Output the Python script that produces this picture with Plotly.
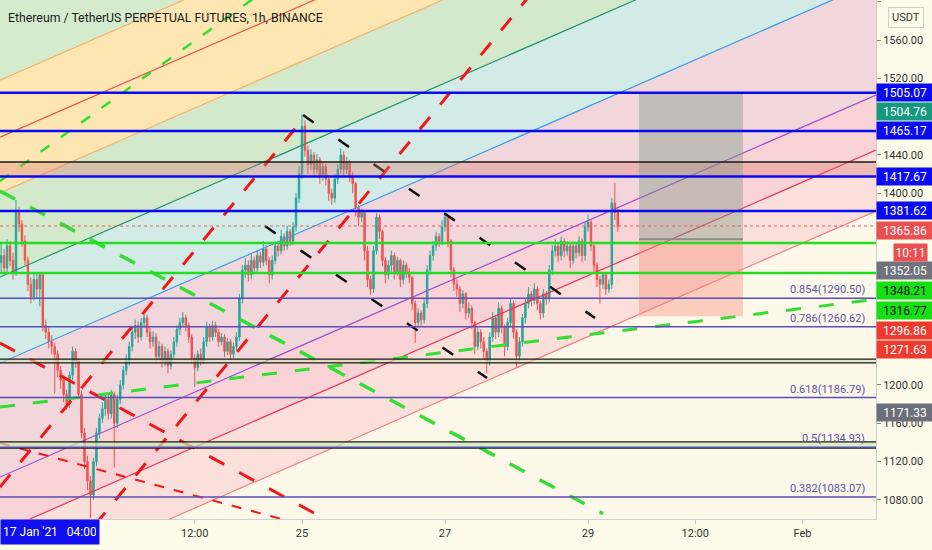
import pandas as pd
import plotly.graph_objects as go

# ETHUSDT perp, 1h candles, first candle 20 Jan 2021 19:00
start = "2021-01-20 19:00"
first_open = 1328
closes = [1335, 1322, 1345, 1330, 1318, 1380, 1368, 1350, 1330, 1305,
          1292, 1310, 1300, 1315, 1262, 1255, 1245, 1240, 1232, 1215,
          1205, 1190, 1180, 1210, 1235, 1225, 1190, 1150, 1120, 1100,
          1085, 1120, 1150, 1165, 1175, 1185, 1170, 1190, 1160, 1185,
          1200, 1215, 1225, 1240, 1255, 1262, 1250, 1265, 1270, 1255,
          1245, 1250, 1230, 1240, 1225, 1235, 1220, 1232, 1245, 1258,
          1265, 1270, 1262, 1250, 1228, 1218, 1232, 1225, 1245, 1260,
          1250, 1262, 1255, 1245, 1250, 1235, 1245, 1232, 1240, 1250,
          1290, 1320, 1325, 1315, 1330, 1322, 1335, 1328, 1342, 1330,
          1315, 1330, 1345, 1340, 1355, 1345, 1360, 1350, 1365, 1395,
          1420, 1470, 1445, 1430, 1440, 1425, 1435, 1418, 1428, 1415,
          1400, 1395, 1415, 1425, 1440, 1425, 1432, 1418, 1410, 1385,
          1375, 1380, 1340, 1310, 1300, 1340, 1375, 1360, 1330, 1315,
          1325, 1335, 1318, 1330, 1310, 1325, 1318, 1312, 1285, 1265,
          1275, 1268, 1285, 1320, 1335, 1345, 1355, 1350, 1365, 1375,
          1350, 1320, 1305, 1300, 1285, 1295, 1275, 1280, 1265, 1240,
          1255, 1245, 1235, 1225, 1250, 1270, 1255, 1280, 1260, 1240,
          1265, 1285, 1255, 1230, 1245, 1270, 1285, 1295, 1288, 1300,
          1285, 1275, 1295, 1290, 1320, 1340, 1345, 1335, 1350, 1340,
          1345, 1330, 1345, 1338, 1350, 1335, 1365, 1370, 1345, 1325,
          1310, 1305, 1315, 1300, 1305, 1390, 1380, 1365]
highs = [1348, 1342, 1352, 1350, 1338, 1393, 1386, 1372, 1356, 1334,
         1312, 1318, 1316, 1318, 1317, 1268, 1260, 1252, 1244, 1236,
         1220, 1210, 1195, 1214, 1240, 1238, 1228, 1194, 1155, 1126,
         1105, 1124, 1155, 1170, 1182, 1192, 1190, 1195, 1193, 1190,
         1205, 1220, 1232, 1245, 1260, 1268, 1266, 1270, 1276, 1273,
         1260, 1256, 1254, 1246, 1243, 1240, 1238, 1236, 1250, 1262,
         1270, 1276, 1273, 1265, 1253, 1232, 1236, 1238, 1250, 1266,
         1264, 1267, 1266, 1258, 1254, 1253, 1249, 1248, 1244, 1255,
         1295, 1325, 1332, 1330, 1336, 1334, 1341, 1339, 1350, 1346,
         1333, 1335, 1350, 1349, 1362, 1358, 1366, 1363, 1370, 1400,
         1428, 1482, 1476, 1450, 1446, 1443, 1441, 1438, 1432, 1431,
         1418, 1405, 1420, 1430, 1447, 1444, 1438, 1435, 1422, 1412,
         1388, 1384, 1382, 1345, 1314, 1345, 1379, 1378, 1362, 1333,
         1330, 1340, 1338, 1334, 1332, 1330, 1328, 1322, 1314, 1288,
         1280, 1278, 1290, 1325, 1340, 1350, 1360, 1358, 1372, 1379,
         1377, 1352, 1323, 1310, 1303, 1299, 1297, 1286, 1283, 1267,
         1260, 1258, 1250, 1238, 1255, 1276, 1273, 1286, 1283, 1263,
         1270, 1290, 1288, 1258, 1250, 1274, 1290, 1302, 1298, 1306,
         1303, 1288, 1300, 1298, 1325, 1346, 1352, 1349, 1355, 1353,
         1350, 1348, 1350, 1348, 1355, 1353, 1370, 1378, 1372, 1348,
         1328, 1314, 1318, 1317, 1310, 1395, 1411, 1384]
lows = [1318, 1315, 1316, 1324, 1310, 1314, 1360, 1344, 1325, 1298,
        1285, 1288, 1290, 1282, 1256, 1248, 1238, 1232, 1191, 1208,
        1196, 1182, 1174, 1176, 1205, 1218, 1185, 1144, 1112, 1090,
        1061, 1080, 1115, 1144, 1160, 1168, 1164, 1165, 1114, 1155,
        1180, 1195, 1210, 1220, 1235, 1248, 1244, 1246, 1260, 1250,
        1238, 1240, 1222, 1226, 1218, 1220, 1212, 1216, 1228, 1240,
        1252, 1260, 1256, 1244, 1222, 1198, 1214, 1220, 1222, 1240,
        1245, 1246, 1250, 1240, 1241, 1229, 1231, 1226, 1228, 1236,
        1246, 1285, 1312, 1308, 1310, 1316, 1318, 1322, 1324, 1325,
        1306, 1310, 1326, 1334, 1336, 1340, 1341, 1345, 1346, 1360,
        1390, 1415, 1438, 1420, 1424, 1418, 1420, 1410, 1413, 1408,
        1392, 1388, 1390, 1410, 1420, 1418, 1420, 1412, 1400, 1376,
        1366, 1370, 1330, 1302, 1294, 1296, 1336, 1352, 1324, 1306,
        1310, 1318, 1310, 1314, 1302, 1305, 1312, 1306, 1278, 1244,
        1260, 1262, 1264, 1280, 1315, 1330, 1340, 1344, 1346, 1360,
        1344, 1312, 1298, 1292, 1276, 1280, 1268, 1270, 1258, 1232,
        1236, 1238, 1226, 1212, 1220, 1245, 1248, 1250, 1254, 1230,
        1236, 1260, 1248, 1218, 1225, 1240, 1264, 1280, 1282, 1284,
        1278, 1268, 1270, 1284, 1286, 1315, 1334, 1328, 1330, 1333,
        1335, 1322, 1326, 1332, 1334, 1328, 1330, 1360, 1340, 1318,
        1302, 1285, 1300, 1294, 1296, 1300, 1372, 1360]
opens = [first_open] + closes[:-1]
times = pd.date_range(start, periods=len(closes), freq="h")

# visible window
x_range = ["2021-01-20 18:38", "2021-02-02 00:40"]
y_range = [1060, 1601.8]

# parallel (fib) channel lines, price at left and right edge of the window
chan_t = x_range
chan_left = [1518.2, 1458.7, 1400.3, 1312.6, 1222.8, 1103.8, 1046.4, 982.7]
chan_right = [1917.0, 1857.5, 1799.1, 1711.4, 1621.6, 1502.6, 1445.2, 1381.5]
chan_colors = ["#f2b36b", "#e8504a", "#f2b36b", "#22936d", "#3d9ae8",
               "#9b4fd0", "#e53960", "#f08080"]
band_colors = ["#d5ebcd", "#fde6b2", "#fde6b2", "#d4e9cc", "#d3ebe6",
               "#f1d6dc", "#f9d2d6", "#fbdfda", "#fdf8ea"]

# trend lines drawn on the chart
red_up_1 = (["2021-01-20 18:38", "2021-01-25 00:20"], [1093.4, 1477.5])
red_up_2 = (["2021-01-22 02:31", "2021-01-28 07:53"], [1053.7, 1619.5])
red_down_1 = (["2021-01-20 18:38", "2021-01-25 12:45"], [1243.7, 1051.6])
red_down_2 = (["2021-01-20 18:38", "2021-01-24 19:58"], [1139.3, 1057.6])
green_down = (["2021-01-20 18:38", "2021-01-29 05:02"], [1402.4, 1065.6])
green_up = (["2021-01-20 18:38", "2021-01-24 09:54"], [1412.8, 1608.2])
green_flat = (["2021-01-20 18:38", "2021-02-02 00:40"], [1176.9, 1289.3])
black_1 = (["2021-01-25 00:20", "2021-01-29 02:21"], [1481.7, 1269.8])
black_2 = (["2021-01-24 11:35", "2021-01-27 14:06"], [1365.8, 1207.2])

# horizontal levels
blue_levels = [1505.07, 1465.17, 1417.67, 1381.62]
green_levels = [1348.21, 1316.77]
black_levels = [1432.7, 1227.0, 1223.0, 1140.5, 1134.0]
fib_ratios = ["0.854", "0.786", "0.618", "0.5", "0.382"]
fib_levels = [1290.50, 1260.62, 1186.79, 1134.93, 1083.07]
last_price = 1365.86

# long position tool
pos_t = ["2021-01-29 17:07", "2021-01-31 04:00"]
pos_target = 1504.76
pos_entry = 1352.05
pos_stop = 1271.63

# price scale labels
lbl_vals = [1505.07, 1504.76, 1465.17, 1417.67, 1381.62, 1365.86, 1352.05,
            1348.21, 1316.77, 1296.86, 1271.63, 1171.33]
lbl_bg = ["#0a0aee", "#15997f", "#0a0aee", "#0a0aee", "#0a0aee", "#ec4f4f",
          "#70737d", "#14e014", "#14e014", "#f03a30", "#f03a30", "#6c6f79"]
lbl_fc = ["white", "white", "white", "white", "white", "white", "white",
          "#111111", "#111111", "white", "white", "white"]
lbl_shift = [0, -19, 0, 0, 0, -4, -31, -48, -37, -38, -33, 0]

x_tickvals = ["2021-01-23 12:00", "2021-01-25", "2021-01-27", "2021-01-29",
              "2021-01-30 12:00", "2021-02-01"]
x_ticktext = ["12:00", "25", "27", "29", "12:00", "Feb"]
# price ticks that are not hidden behind the label boxes
y_tickvals = [1080, 1120, 1160, 1200, 1400, 1440, 1520, 1560, 1600]

fig = go.Figure()

# channel bands (background), on the base axes
edges_left = [chan_left[0] + 800] + chan_left + [chan_left[-1] - 800]
edges_right = [chan_right[0] + 800] + chan_right + [chan_right[-1] - 800]
for i, col in enumerate(band_colors):
    fig.add_trace(go.Scatter(
        x=[chan_t[0], chan_t[1], chan_t[1], chan_t[0], chan_t[0]],
        y=[edges_left[i], edges_right[i], edges_right[i + 1], edges_left[i + 1], edges_left[i]],
        mode="lines", line=dict(width=0), fill="toself", fillcolor=col,
        hoverinfo="skip", showlegend=False))

# candles and drawings go on overlaying axes so they sit above the bands
fig.add_trace(go.Candlestick(
    x=times, open=opens, high=highs, low=lows, close=closes,
    increasing=dict(line=dict(color="#26a69a", width=1), fillcolor="#26a69a"),
    decreasing=dict(line=dict(color="#ef5350", width=1), fillcolor="#ef5350"),
    whiskerwidth=0, showlegend=False, xaxis="x2", yaxis="y2"))

for pl, pr, col in zip(chan_left, chan_right, chan_colors):
    fig.add_trace(go.Scatter(x=chan_t, y=[pl, pr], mode="lines",
                             line=dict(color=col, width=1.2),
                             hoverinfo="skip", showlegend=False,
                             xaxis="x2", yaxis="y2"))

trend_lines = [
    (red_up_1, "#f01818", 3, "16px,16px"),
    (red_up_2, "#f01818", 3, "16px,16px"),
    (red_down_1, "#f01818", 3, "17px,17px"),
    (red_down_2, "#f01818", 2, "10px,10px"),
    (green_down, "#33dd33", 3.5, "17px,17px"),
    (green_up, "#33dd33", 2.5, "11px,14px"),
    (green_flat, "#33dd33", 3, "15px,18px"),
    (black_1, "#111111", 2.5, "13px,30px"),
    (black_2, "#111111", 2.5, "13px,30px"),
]
for (tt, pp), col, w, d in trend_lines:
    fig.add_trace(go.Scatter(x=tt, y=pp, mode="lines",
                             line=dict(color=col, width=w, dash=d),
                             hoverinfo="skip", showlegend=False,
                             xaxis="x2", yaxis="y2"))

# bands between level pairs
fig.add_hrect(y0=blue_levels[2], y1=black_levels[0], line_width=0,
              fillcolor="rgba(220,120,110,0.35)", layer="above")
fig.add_hrect(y0=black_levels[2], y1=black_levels[1], line_width=0,
              fillcolor="rgba(205,225,170,0.6)", layer="above")
fig.add_hrect(y0=black_levels[4], y1=black_levels[3], line_width=0,
              fillcolor="rgba(200,235,175,0.7)", layer="above")

# long position box
fig.add_shape(type="rect", x0=pos_t[0], x1=pos_t[1], y0=pos_entry, y1=pos_target,
              line_width=0, fillcolor="rgba(120,150,130,0.38)", layer="above")
fig.add_shape(type="rect", x0=pos_t[0], x1=pos_t[1], y0=pos_stop, y1=pos_entry,
              line_width=0, fillcolor="rgba(245,140,120,0.4)", layer="above")
fig.add_shape(type="line", x0=pos_t[0], x1=pos_t[1], y0=pos_entry, y1=pos_entry,
              line=dict(color="#8a8f8a", width=2), layer="above")

for v in black_levels:
    fig.add_hline(y=v, line=dict(color="#1a1a1a", width=1.3), layer="above")
for v in fib_levels:
    fig.add_hline(y=v, line=dict(color="#5b4fb5", width=1.5), layer="above")
for v in green_levels:
    fig.add_hline(y=v, line=dict(color="#22dd22", width=2.5), layer="above")
for v in blue_levels:
    fig.add_hline(y=v, line=dict(color="#0a0aee", width=2.5), layer="above")
fig.add_hline(y=last_price, line=dict(color="#e06060", width=1, dash="dot"), layer="above")

# fib labels
for r, v in zip(fib_ratios, fib_levels):
    fig.add_annotation(xref="paper", x=0.99, xanchor="right", y=v, yanchor="bottom",
                       yshift=0, text=f"{r}({v:.2f})", showarrow=False,
                       font=dict(family="Roboto", size=11, color="#5a55a5"))

# price scale labels
for v, bg, fc, sh in zip(lbl_vals, lbl_bg, lbl_fc, lbl_shift):
    fig.add_annotation(xref="paper", x=1, xanchor="left", y=v, yanchor="middle",
                       yshift=sh, text=f"{v:.2f}", showarrow=False, bgcolor=bg,
                       width=52, height=13, borderpad=2,
                       font=dict(family="Roboto", size=12, color=fc))
fig.add_annotation(xref="paper", x=1, xanchor="left", xshift=17, y=last_price,
                   yanchor="middle", yshift=-26, text="10:11", showarrow=False,
                   bgcolor="#ec4f4f", width=29, height=13, borderpad=2,
                   font=dict(family="Roboto", size=12, color="white"))
fig.add_annotation(xref="paper", x=1, xanchor="left", xshift=12, yref="paper", y=1,
                   yanchor="top", yshift=-7, text="USDT", showarrow=False,
                   bgcolor="#fdfce6", bordercolor="#cfcfcf", borderwidth=1, borderpad=3,
                   font=dict(family="Roboto", size=11, color="#333333"))

# title and crosshair date
fig.add_annotation(xref="paper", x=0, xanchor="left", xshift=6, yref="paper", y=1,
                   yanchor="top", yshift=-9,
                   text="Ethereum / TetherUS PERPETUAL FUTURES, 1h, BINANCE",
                   showarrow=False, font=dict(family="Roboto", size=12.3, color="#1a1a1a"))
fig.add_annotation(xref="paper", x=0, xanchor="left", yref="paper", y=0,
                   yanchor="top", text="17 Jan '21&nbsp;&nbsp;&nbsp;04:00",
                   showarrow=False, bgcolor="#0f0ff0", width=92, height=18, borderpad=3,
                   font=dict(family="Roboto", size=12, color="white"))

fig.update_layout(
    width=932, height=550,
    margin=dict(l=0, r=56, t=0, b=31),
    paper_bgcolor="#fdfcea",
    plot_bgcolor="#fdf8ea",
    showlegend=False,
    xaxis=dict(range=x_range, rangeslider=dict(visible=False),
               tickvals=x_tickvals, ticktext=x_ticktext,
               tickfont=dict(family="Roboto", size=11, color="#333333"),
               showgrid=True, gridcolor="rgba(120,120,120,0.12)",
               showline=True, linecolor="#d0d0d0", zeroline=False,
               ticks="outside", ticklen=4, tickcolor="#c8c8c8"),
    yaxis=dict(range=y_range, side="right", tickvals=y_tickvals, tickformat=".2f",
               tickfont=dict(family="Roboto", size=11, color="#333333"),
               showgrid=True, gridcolor="rgba(120,120,120,0.10)",
               showline=True, linecolor="#d0d0d0", zeroline=False,
               ticks="outside", ticklen=4, tickcolor="#888888"),
    xaxis2=dict(overlaying="x", range=x_range, visible=False,
                rangeslider=dict(visible=False)),
    yaxis2=dict(overlaying="y", range=y_range, visible=False),
)

fig.write_html("out.html", config={"displayModeBar": False},
               post_script="document.body.style.margin='0';")
